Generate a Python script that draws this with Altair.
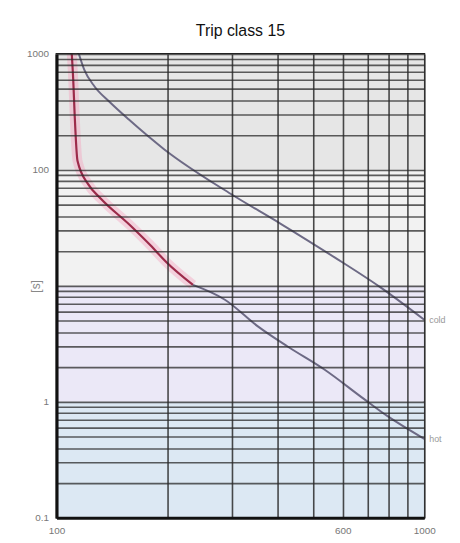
import altair as alt
import pandas as pd

# ---- data ----
hot_x = [110, 111, 112, 114, 122, 132, 159, 180, 199, 235, 287, 352, 425, 535, 685, 791, 1000]
hot_y = [1000, 600, 300, 120, 75, 56.5, 33, 22.4, 16, 10.2, 7.6, 4.5, 3.0, 1.9, 1.06, 0.76, 0.48]
hot_red_until = 10  # first points drawn red

cold_x = [115, 119, 127, 139, 157, 196, 298, 406, 569, 757, 1000]
cold_y = [1000, 729, 522, 389, 273, 151, 62, 34.5, 17.7, 9.8, 5.1]

band_lo = [0.1, 1, 10, 100]
band_hi = [1, 10, 100, 1000]
band_name = ["b0", "b1", "b2", "b3"]
band_col = ["#dce8f3", "#ebe8f7", "#f2f2f2", "#e6e6e6"]

x_ticks = [100, 200, 300, 400, 500, 600, 700, 800, 900, 1000]
x_labels = [100, 600, 1000]
y_ticks = [k * 10.0 ** e for e in range(-1, 3) for k in range(1, 10)] + [1000]
y_labels = [0.1, 1, 100, 1000]

curve_labels = ["cold", "hot"]
label_x = [1000, 1000]
label_y = [cold_y[-1], hot_y[-1]]

# ---- tables ----
bands = pd.DataFrame({"lo": band_lo, "hi": band_hi, "b": band_name})
hot_red = pd.DataFrame({"x": hot_x[:hot_red_until], "y": hot_y[:hot_red_until], "o": range(hot_red_until)})
hot_gray = pd.DataFrame({"x": hot_x[hot_red_until - 1:], "y": hot_y[hot_red_until - 1:],
                         "o": range(len(hot_x) - hot_red_until + 1)})
cold = pd.DataFrame({"x": cold_x, "y": cold_y, "o": range(len(cold_x))})
labs = pd.DataFrame({"x": label_x, "y": label_y, "t": curve_labels})

W, H = 371, 468

xs = alt.Scale(type="log", domain=[100, 1000], nice=False)
ys = alt.Scale(type="log", domain=[0.1, 1000], nice=False)

xlab_expr = "indexof([" + ",".join(str(v) for v in x_labels) + "], datum.value) >= 0 ? datum.value : ''"
ylab_expr = ("(abs(datum.value-0.1)<1e-9 || datum.value==1 || datum.value==100 || datum.value==1000)"
             " ? (datum.value < 1 ? '0.1' : format(datum.value, 'd')) : ''")

xax = alt.Axis(values=x_ticks, labelExpr=xlab_expr, grid=True, gridColor="#2a2a2a", gridWidth=1.6,
               gridOpacity=0.85, ticks=False, domainColor="#111", domainWidth=3, labelColor="#777",
               labelFontSize=10, labelPadding=8, title=None, zindex=1, labelFlush=False)
yax = alt.Axis(values=y_ticks, labelExpr=ylab_expr, grid=True, gridColor="#2a2a2a", gridWidth=1.6,
               gridOpacity=0.75, ticks=False, domainColor="#111", domainWidth=3, labelColor="#777",
               labelFontSize=10, labelPadding=8, title="[s]", titleColor="#888", titleFontSize=12,
               titleFontWeight="normal", titleX=-14, zindex=1)

bg = alt.Chart(bands).mark_rect().encode(
    x=alt.value(0), x2=alt.value(W),
    y=alt.Y("hi:Q", scale=ys, axis=yax), y2="lo:Q",
    color=alt.Color("b:N", scale=alt.Scale(domain=band_name, range=band_col), legend=None),
)

glow = alt.Chart(hot_red).mark_line(color="#f4a7c0", strokeWidth=10, opacity=0.45,
                                    interpolate="monotone").encode(
    x=alt.X("x:Q", scale=xs, axis=xax), y=alt.Y("y:Q", scale=ys), order="o:Q")
red = alt.Chart(hot_red).mark_line(color="#9c2b4a", strokeWidth=2.2, interpolate="monotone").encode(
    x=alt.X("x:Q", scale=xs), y=alt.Y("y:Q", scale=ys), order="o:Q")
gray = alt.Chart(hot_gray).mark_line(color="#6d6a85", strokeWidth=2, interpolate="monotone").encode(
    x=alt.X("x:Q", scale=xs), y=alt.Y("y:Q", scale=ys), order="o:Q")
coldl = alt.Chart(cold).mark_line(color="#6d6a85", strokeWidth=2, interpolate="monotone").encode(
    x=alt.X("x:Q", scale=xs), y=alt.Y("y:Q", scale=ys), order="o:Q")
txt = alt.Chart(labs).mark_text(align="left", dx=5, fontSize=9, color="#999", clip=False).encode(
    x=alt.X("x:Q", scale=xs), y=alt.Y("y:Q", scale=ys), text="t:N")

chart = alt.layer(bg, glow, red, gray, coldl, txt).properties(
    width=W, height=H,
    title=alt.TitleParams("Trip class 15", fontSize=16, fontWeight="normal", color="#111",
                          anchor="middle", offset=8, dy=13),
    autosize=alt.AutoSizeParams(type="none"),
    padding={"left": 49, "top": 44, "right": 28, "bottom": 20},
).configure_view(stroke="#222", strokeWidth=2)

chart.save("out.html", embed_options={"renderer": "svg", "actions": False})
